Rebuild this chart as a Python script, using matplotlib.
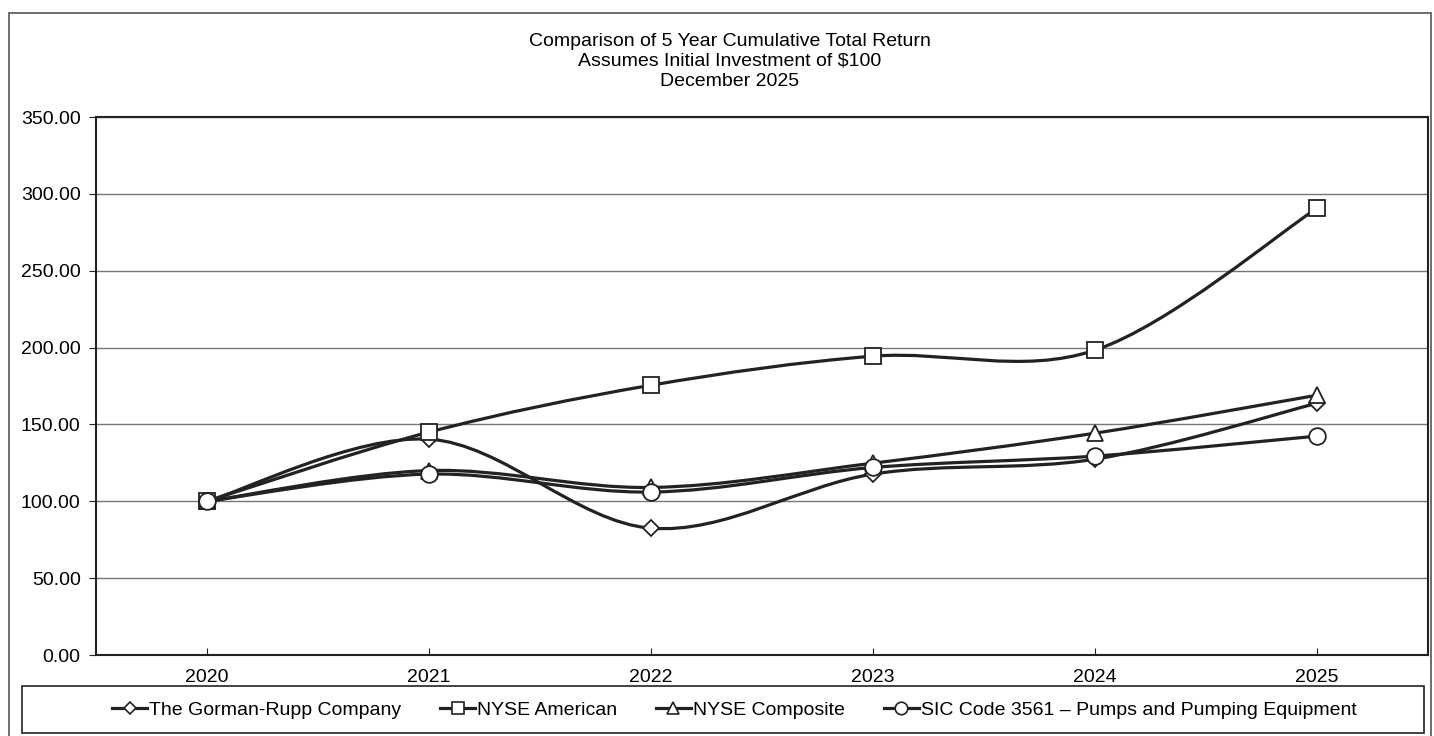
import matplotlib.pyplot as plt
from matplotlib.path import Path
from matplotlib.patches import PathPatch, Rectangle
from matplotlib.lines import Line2D

plt.rcParams['font.family'] = ['Liberation Sans', 'DejaVu Sans']

# data
years = ['2020', '2021', '2022', '2023', '2024', '2025']
gorman = [100.0, 140.4, 82.5, 117.7, 127.4, 163.8]
nyse_american = [100.0, 145.0, 175.5, 194.4, 198.3, 290.6]
nyse_composite = [100.0, 120.0, 109.0, 124.8, 144.3, 169.0]
sic_3561 = [100.0, 117.7, 106.0, 122.0, 129.4, 142.4]

names = ['The Gorman-Rupp Company', 'NYSE American', 'NYSE Composite',
         'SIC Code 3561 \u2013 Pumps and Pumping Equipment']
series = [gorman, nyse_american, nyse_composite, sic_3561]
markers = ['D', 's', '^', 'o']
msizes = [8, 11, 11, 12]

ink = '#222222'
fs = 14


def smooth_path(ys):
    # Excel-style smoothed line: cubic bezier through each point
    xs = list(range(len(ys)))
    pts = list(zip(xs, ys))
    verts = [pts[0]]
    codes = [Path.MOVETO]
    n = len(pts)
    for i in range(n - 1):
        p0 = pts[max(i - 1, 0)]
        p1 = pts[i]
        p2 = pts[i + 1]
        p3 = pts[min(i + 2, n - 1)]
        c1 = (p1[0] + (p2[0] - p0[0]) / 6, p1[1] + (p2[1] - p0[1]) / 6)
        c2 = (p2[0] - (p3[0] - p1[0]) / 6, p2[1] - (p3[1] - p1[1]) / 6)
        verts += [c1, c2, p2]
        codes += [Path.CURVE4] * 3
    return Path(verts, codes)


fig = plt.figure(figsize=(14.34, 7.36), dpi=100)
ax = fig.add_axes([96 / 1434, 1 - 655 / 736, 1332 / 1434, 538 / 736])

for ys, m, ms in zip(series, markers, msizes):
    ax.add_patch(PathPatch(smooth_path(ys), facecolor='none', edgecolor=ink,
                           lw=2.3, zorder=3))
    ax.plot(range(len(ys)), ys, linestyle='none', marker=m, markersize=ms,
            markerfacecolor='white', markeredgecolor=ink, markeredgewidth=1.3,
            zorder=4)

ax.set_xlim(-0.5, len(years) - 0.5)
ax.set_ylim(0, 350)
ax.set_yticks(range(0, 351, 50))
ax.set_yticklabels([f'{v:.2f}' for v in range(0, 351, 50)])
ax.set_xticks(range(len(years)))
ax.set_xticklabels(years)
ax.tick_params(axis='y', direction='out', length=5, labelsize=fs, color=ink, pad=6)
ax.tick_params(axis='x', direction='in', length=5, labelsize=fs, color=ink, pad=10)
ax.yaxis.grid(True, color='#777777', lw=1)
ax.set_axisbelow(True)
for s in ax.spines.values():
    s.set_color(ink)
    s.set_linewidth(1.5)

fig.text(0.509, 1 - 41 / 736, 'Comparison of 5 Year Cumulative Total Return',
         ha='center', va='center', fontsize=fs)
fig.text(0.509, 1 - 61 / 736, 'Assumes Initial Investment of $100',
         ha='center', va='center', fontsize=fs)
fig.text(0.509, 1 - 81 / 736, 'December 2025',
         ha='center', va='center', fontsize=fs)

# outer border and legend box
fig.patches.append(Rectangle((9 / 1434, -0.02), 1422 / 1434, 1 - 13 / 736 + 0.02,
                             transform=fig.transFigure, fill=False,
                             edgecolor='#555555', lw=1.2))
fig.patches.append(Rectangle((22 / 1434, 1 - 733 / 736), 1402 / 1434, 47 / 736,
                             transform=fig.transFigure, fill=False,
                             edgecolor=ink, lw=1.2))

handles = [Line2D([], [], color=ink, lw=2.3, marker=m, markersize=ms * 0.75,
                  markerfacecolor='white', markeredgecolor=ink, markeredgewidth=1.2)
           for m, ms in zip(markers, msizes)]
fig.legend(handles, names, loc='center', bbox_to_anchor=(0.512, 1 - 710 / 736),
           ncol=4, frameon=False, fontsize=fs, handlelength=1.8,
           handletextpad=0.1, columnspacing=2.0)

fig.savefig('out.png', dpi=100)
